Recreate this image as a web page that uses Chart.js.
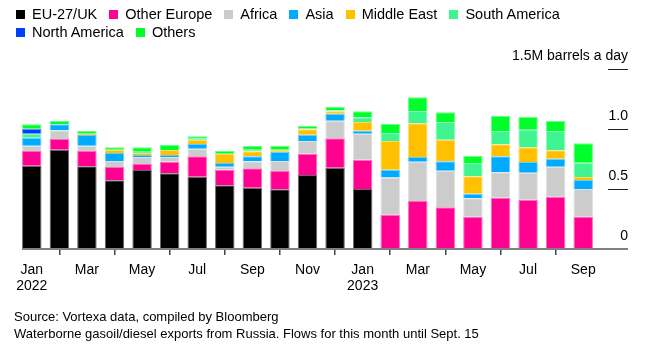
<!DOCTYPE html>
<html>
<head>
<meta charset="utf-8">
<script src="https://cdn.jsdelivr.net/npm/chart.js@4.4.0/dist/chart.umd.min.js"></script>
<style>
  html, body { margin: 0; padding: 0; background: #fff; }
  body { width: 658px; height: 354px; position: relative; overflow: hidden;
         font-family: "Liberation Sans", Arial, sans-serif; color: #000; }
  #legend { position: absolute; left: 16px; top: 5px; width: 600px; display: flex; flex-wrap: wrap;
            font-size: 14.5px; line-height: 18px; }
  .item { display: flex; align-items: center; margin-right: 12px; }
  .sw { width: 9px; height: 9px; margin-right: 7px; }
  #chart { position: absolute; left: 0; top: 0; }
  #note { position: absolute; left: 14px; top: 308px; font-size: 13px; line-height: 17px; }
</style>
</head>
<body>
<canvas id="chart" width="658" height="354"></canvas>
<div id="legend"></div>
<div id="note">Source: Vortexa data, compiled by Bloomberg<br>Waterborne gasoil/diesel exports from Russia. Flows for this month until Sept. 15</div>
<script>
// Mois (janv. 2022 -> sept. 2023)
const categories = [
    "2022-01", "2022-02", "2022-03", "2022-04", "2022-05", "2022-06", "2022-07",
    "2022-08", "2022-09", "2022-10", "2022-11", "2022-12", "2023-01", "2023-02",
    "2023-03", "2023-04", "2023-05", "2023-06", "2023-07", "2023-08", "2023-09"
];
const tickLabels = [
    ["Jan", "2022"], null, "Mar", null, "May", null, "Jul", null, "Sep", null, "Nov", null,
    ["Jan", "2023"], null, "Mar", null, "May", null, "Jul", null, "Sep"
];

// millions de barils par jour
const euUk         = [0.694, 0.828, 0.689, 0.572, 0.658, 0.631, 0.603, 0.531, 0.511, 0.497, 0.617, 0.678, 0.500, 0.005, 0, 0, 0, 0, 0, 0, 0];
const otherEurope  = [0.123, 0.089, 0.128, 0.111, 0.050, 0.097, 0.169, 0.130, 0.161, 0.153, 0.177, 0.244, 0.244, 0.280, 0.400, 0.347, 0.269, 0.428, 0.411, 0.436, 0.269];
const africa       = [0.044, 0.072, 0.044, 0.050, 0.059, 0.039, 0.064, 0.025, 0.059, 0.083, 0.106, 0.147, 0.217, 0.311, 0.328, 0.306, 0.153, 0.211, 0.225, 0.250, 0.231];
const asia         = [0.067, 0.050, 0.089, 0.067, 0.016, 0.016, 0.039, 0.031, 0.041, 0.078, 0.053, 0.059, 0.025, 0.064, 0.039, 0.078, 0.039, 0.133, 0.089, 0.067, 0.075];
const middleEast   = [0, 0, 0.011, 0.028, 0.017, 0.042, 0.036, 0.077, 0.042, 0.017, 0.044, 0.019, 0.072, 0.239, 0.280, 0.180, 0.145, 0.100, 0.122, 0.069, 0.025];
const southAmerica = [0.033, 0, 0, 0, 0.011, 0, 0.014, 0, 0.014, 0, 0.011, 0.009, 0.039, 0.067, 0.103, 0.147, 0.111, 0.111, 0.147, 0.161, 0.119];
const northAmerica = [0.042, 0, 0, 0, 0, 0, 0, 0, 0, 0, 0, 0, 0, 0, 0, 0, 0, 0, 0, 0, 0];
const others       = [0.036, 0.028, 0.025, 0.019, 0.036, 0.044, 0.014, 0.025, 0.030, 0.033, 0.017, 0.030, 0.050, 0.075, 0.114, 0.081, 0.061, 0.125, 0.109, 0.084, 0.162];

const yTicks = [0, 0.5, 1, 1.5];
const yTickLabels = ["0", "0.5", "1.0", "1.5M barrels a day"];

const series = [
    { name: "EU-27/UK",      data: euUk,         color: "#000000" },
    { name: "Other Europe",  data: otherEurope,  color: "#ff0090" },
    { name: "Africa",        data: africa,       color: "#cccccc" },
    { name: "Asia",          data: asia,         color: "#00aaff" },
    { name: "Middle East",   data: middleEast,   color: "#ffc000" },
    { name: "South America", data: southAmerica, color: "#40f590" },
    { name: "North America", data: northAmerica, color: "#0040ff" },
    { name: "Others",        data: others,       color: "#00ff2a" }
];

const FONT = '"Liberation Sans", Arial, sans-serif';

// légende en HTML
const legend = document.getElementById('legend');
series.forEach(s => {
    const item = document.createElement('div');
    item.className = 'item';
    item.innerHTML = `<span class="sw" style="background:${s.color}"></span>${s.name}`;
    legend.appendChild(item);
});

// axe de droite + ligne de base
const axisPlugin = {
    id: 'axisPlugin',
    afterDatasetsDraw(chart) {
        const c = chart.ctx;
        const y = chart.scales.y;
        const first = chart.getDatasetMeta(0).data[0];
        const y0 = y.getPixelForValue(0);
        c.save();
        c.strokeStyle = '#808080';
        c.lineWidth = 2;
        c.beginPath();
        c.moveTo(first.x - first.width / 2, y0);
        c.lineTo(628, y0);
        c.stroke();

        c.fillStyle = '#000';
        c.font = '14px ' + FONT;
        c.textAlign = 'right';
        c.textBaseline = 'middle';
        yTicks.forEach((v, i) => {
            const py = Math.round(y.getPixelForValue(v)) + 0.5;
            if (v > 0) {
                c.strokeStyle = '#222';
                c.lineWidth = 1;
                c.beginPath();
                c.moveTo(608, py);
                c.lineTo(628, py);
                c.stroke();
            }
            c.fillText(yTickLabels[i], 628, py - 13);
        });
        c.restore();
    }
};

const ctx = document.getElementById('chart').getContext('2d');
new Chart(ctx, {
    type: 'bar',
    data: {
        labels: categories,
        datasets: series.map(s => ({
            label: s.name,
            data: s.data,
            backgroundColor: s.color,
            borderColor: s.color + '99',
            borderWidth: 1,
            barPercentage: 0.707,
            categoryPercentage: 1
        }))
    },
    options: {
        responsive: false,
        animation: false,
        layout: { padding: { left: 18, right: 61, top: 69, bottom: 45 } },
        plugins: { legend: { display: false }, tooltip: { enabled: false } },
        scales: {
            x: {
                stacked: true,
                border: { display: false },
                grid: { drawOnChartArea: false, drawTicks: true, tickLength: 6, tickColor: '#444', lineWidth: 1.5 },
                ticks: {
                    autoSkip: false, maxRotation: 0, padding: 7, color: '#000',
                    font: { family: FONT, size: 14, lineHeight: 1.15 },
                    callback: (v, i) => tickLabels[i]
                },
                afterFit: s => { s.height = 60; }
            },
            y: { stacked: true, display: false, min: 0, max: 1.5 }
        }
    },
    plugins: [axisPlugin]
});
</script>
</body>
</html>
